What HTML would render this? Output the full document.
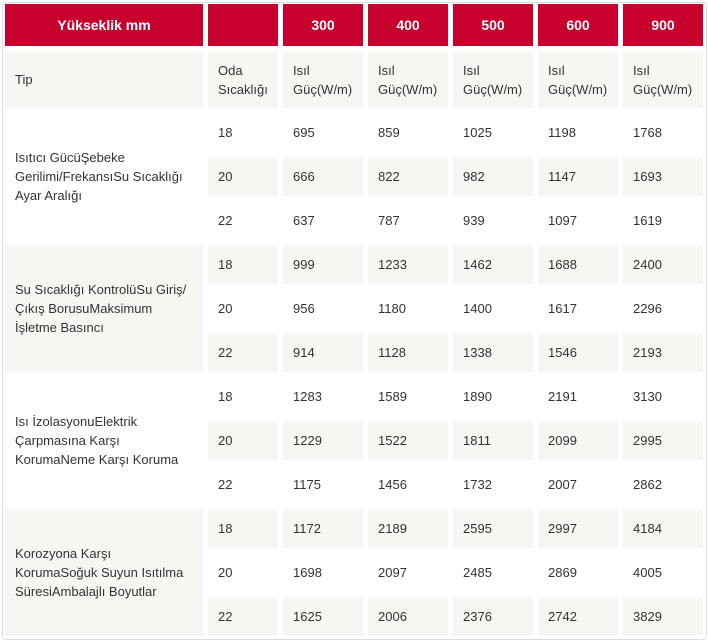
<!DOCTYPE html>
<html><head><meta charset="utf-8"><style>
body{margin:0;background:#fff;width:708px;height:642px;overflow:hidden;position:relative;font-family:"Liberation Sans",Arial,sans-serif;}
.wrap{position:absolute;left:2px;top:2px;width:703px;height:636px;border:1px solid #ddd;border-radius:4px;}
.c{position:absolute;box-sizing:border-box;padding-left:10px;font-size:13px;color:#333;line-height:19px;display:flex;align-items:center;}
.h{background:#c8002e;color:#fff;font-weight:bold;font-size:14px;justify-content:center;padding:0;top:4px;height:42px;}
.g{background:#f7f6f2;}
.t{top:51px;height:57px;}
.a{left:5px;width:198px}.b{left:208px;width:70px}.d{left:283px;width:80px}.e{left:368px;width:80px}.f{left:453px;width:80px}.k{left:538px;width:80px}.m{left:623px;width:80px}
</style></head><body><div class="wrap"></div>
<div class="c h a">Yükseklik mm</div><div class="c h b"></div><div class="c h d">300</div><div class="c h e">400</div><div class="c h f">500</div><div class="c h k">600</div><div class="c h m">900</div>
<div class="c g t a">Tip</div><div class="c g t b">Oda<br>Sıcaklığı</div><div class="c g t d">Isıl<br>Güç(W/m)</div><div class="c g t e">Isıl<br>Güç(W/m)</div><div class="c g t f">Isıl<br>Güç(W/m)</div><div class="c g t k">Isıl<br>Güç(W/m)</div><div class="c g t m">Isıl<br>Güç(W/m)</div>

<div class="c a" style="top:113px;height:127px">Isıtıcı GücüŞebeke<br>Gerilimi/FrekansıSu Sıcaklığı<br>Ayar Aralığı</div>
<div class="c g a" style="top:245px;height:127px">Su Sıcaklığı KontrolüSu Giriş/<br>Çıkış BorusuMaksimum<br>İşletme Basıncı</div>
<div class="c a" style="top:377px;height:127px">Isı İzolasyonuElektrik<br>Çarpmasına Karşı<br>KorumaNeme Karşı Koruma</div>
<div class="c g a" style="top:509px;height:127px">Korozyona Karşı<br>KorumaSoğuk Suyun Isıtılma<br>SüresiAmbalajlı Boyutlar</div>

<div style="position:absolute;left:0;top:113px;height:39px;width:708px"><div class="c b" style="height:39px">18</div><div class="c d" style="height:39px">695</div><div class="c e" style="height:39px">859</div><div class="c f" style="height:39px">1025</div><div class="c k" style="height:39px">1198</div><div class="c m" style="height:39px">1768</div></div>
<div style="position:absolute;left:0;top:157px;height:39px;width:708px"><div class="c g b" style="height:39px">20</div><div class="c g d" style="height:39px">666</div><div class="c g e" style="height:39px">822</div><div class="c g f" style="height:39px">982</div><div class="c g k" style="height:39px">1147</div><div class="c g m" style="height:39px">1693</div></div>
<div style="position:absolute;left:0;top:201px;height:39px;width:708px"><div class="c b" style="height:39px">22</div><div class="c d" style="height:39px">637</div><div class="c e" style="height:39px">787</div><div class="c f" style="height:39px">939</div><div class="c k" style="height:39px">1097</div><div class="c m" style="height:39px">1619</div></div>

<div style="position:absolute;left:0;top:245px;height:39px;width:708px"><div class="c g b" style="height:39px">18</div><div class="c g d" style="height:39px">999</div><div class="c g e" style="height:39px">1233</div><div class="c g f" style="height:39px">1462</div><div class="c g k" style="height:39px">1688</div><div class="c g m" style="height:39px">2400</div></div>
<div style="position:absolute;left:0;top:289px;height:39px;width:708px"><div class="c b" style="height:39px">20</div><div class="c d" style="height:39px">956</div><div class="c e" style="height:39px">1180</div><div class="c f" style="height:39px">1400</div><div class="c k" style="height:39px">1617</div><div class="c m" style="height:39px">2296</div></div>
<div style="position:absolute;left:0;top:333px;height:39px;width:708px"><div class="c g b" style="height:39px">22</div><div class="c g d" style="height:39px">914</div><div class="c g e" style="height:39px">1128</div><div class="c g f" style="height:39px">1338</div><div class="c g k" style="height:39px">1546</div><div class="c g m" style="height:39px">2193</div></div>

<div style="position:absolute;left:0;top:377px;height:39px;width:708px"><div class="c b" style="height:39px">18</div><div class="c d" style="height:39px">1283</div><div class="c e" style="height:39px">1589</div><div class="c f" style="height:39px">1890</div><div class="c k" style="height:39px">2191</div><div class="c m" style="height:39px">3130</div></div>
<div style="position:absolute;left:0;top:421px;height:39px;width:708px"><div class="c g b" style="height:39px">20</div><div class="c g d" style="height:39px">1229</div><div class="c g e" style="height:39px">1522</div><div class="c g f" style="height:39px">1811</div><div class="c g k" style="height:39px">2099</div><div class="c g m" style="height:39px">2995</div></div>
<div style="position:absolute;left:0;top:465px;height:39px;width:708px"><div class="c b" style="height:39px">22</div><div class="c d" style="height:39px">1175</div><div class="c e" style="height:39px">1456</div><div class="c f" style="height:39px">1732</div><div class="c k" style="height:39px">2007</div><div class="c m" style="height:39px">2862</div></div>

<div style="position:absolute;left:0;top:509px;height:39px;width:708px"><div class="c g b" style="height:39px">18</div><div class="c g d" style="height:39px">1172</div><div class="c g e" style="height:39px">2189</div><div class="c g f" style="height:39px">2595</div><div class="c g k" style="height:39px">2997</div><div class="c g m" style="height:39px">4184</div></div>
<div style="position:absolute;left:0;top:553px;height:39px;width:708px"><div class="c b" style="height:39px">20</div><div class="c d" style="height:39px">1698</div><div class="c e" style="height:39px">2097</div><div class="c f" style="height:39px">2485</div><div class="c k" style="height:39px">2869</div><div class="c m" style="height:39px">4005</div></div>
<div style="position:absolute;left:0;top:597px;height:39px;width:708px"><div class="c g b" style="height:39px">22</div><div class="c g d" style="height:39px">1625</div><div class="c g e" style="height:39px">2006</div><div class="c g f" style="height:39px">2376</div><div class="c g k" style="height:39px">2742</div><div class="c g m" style="height:39px">3829</div></div>
</body></html>
